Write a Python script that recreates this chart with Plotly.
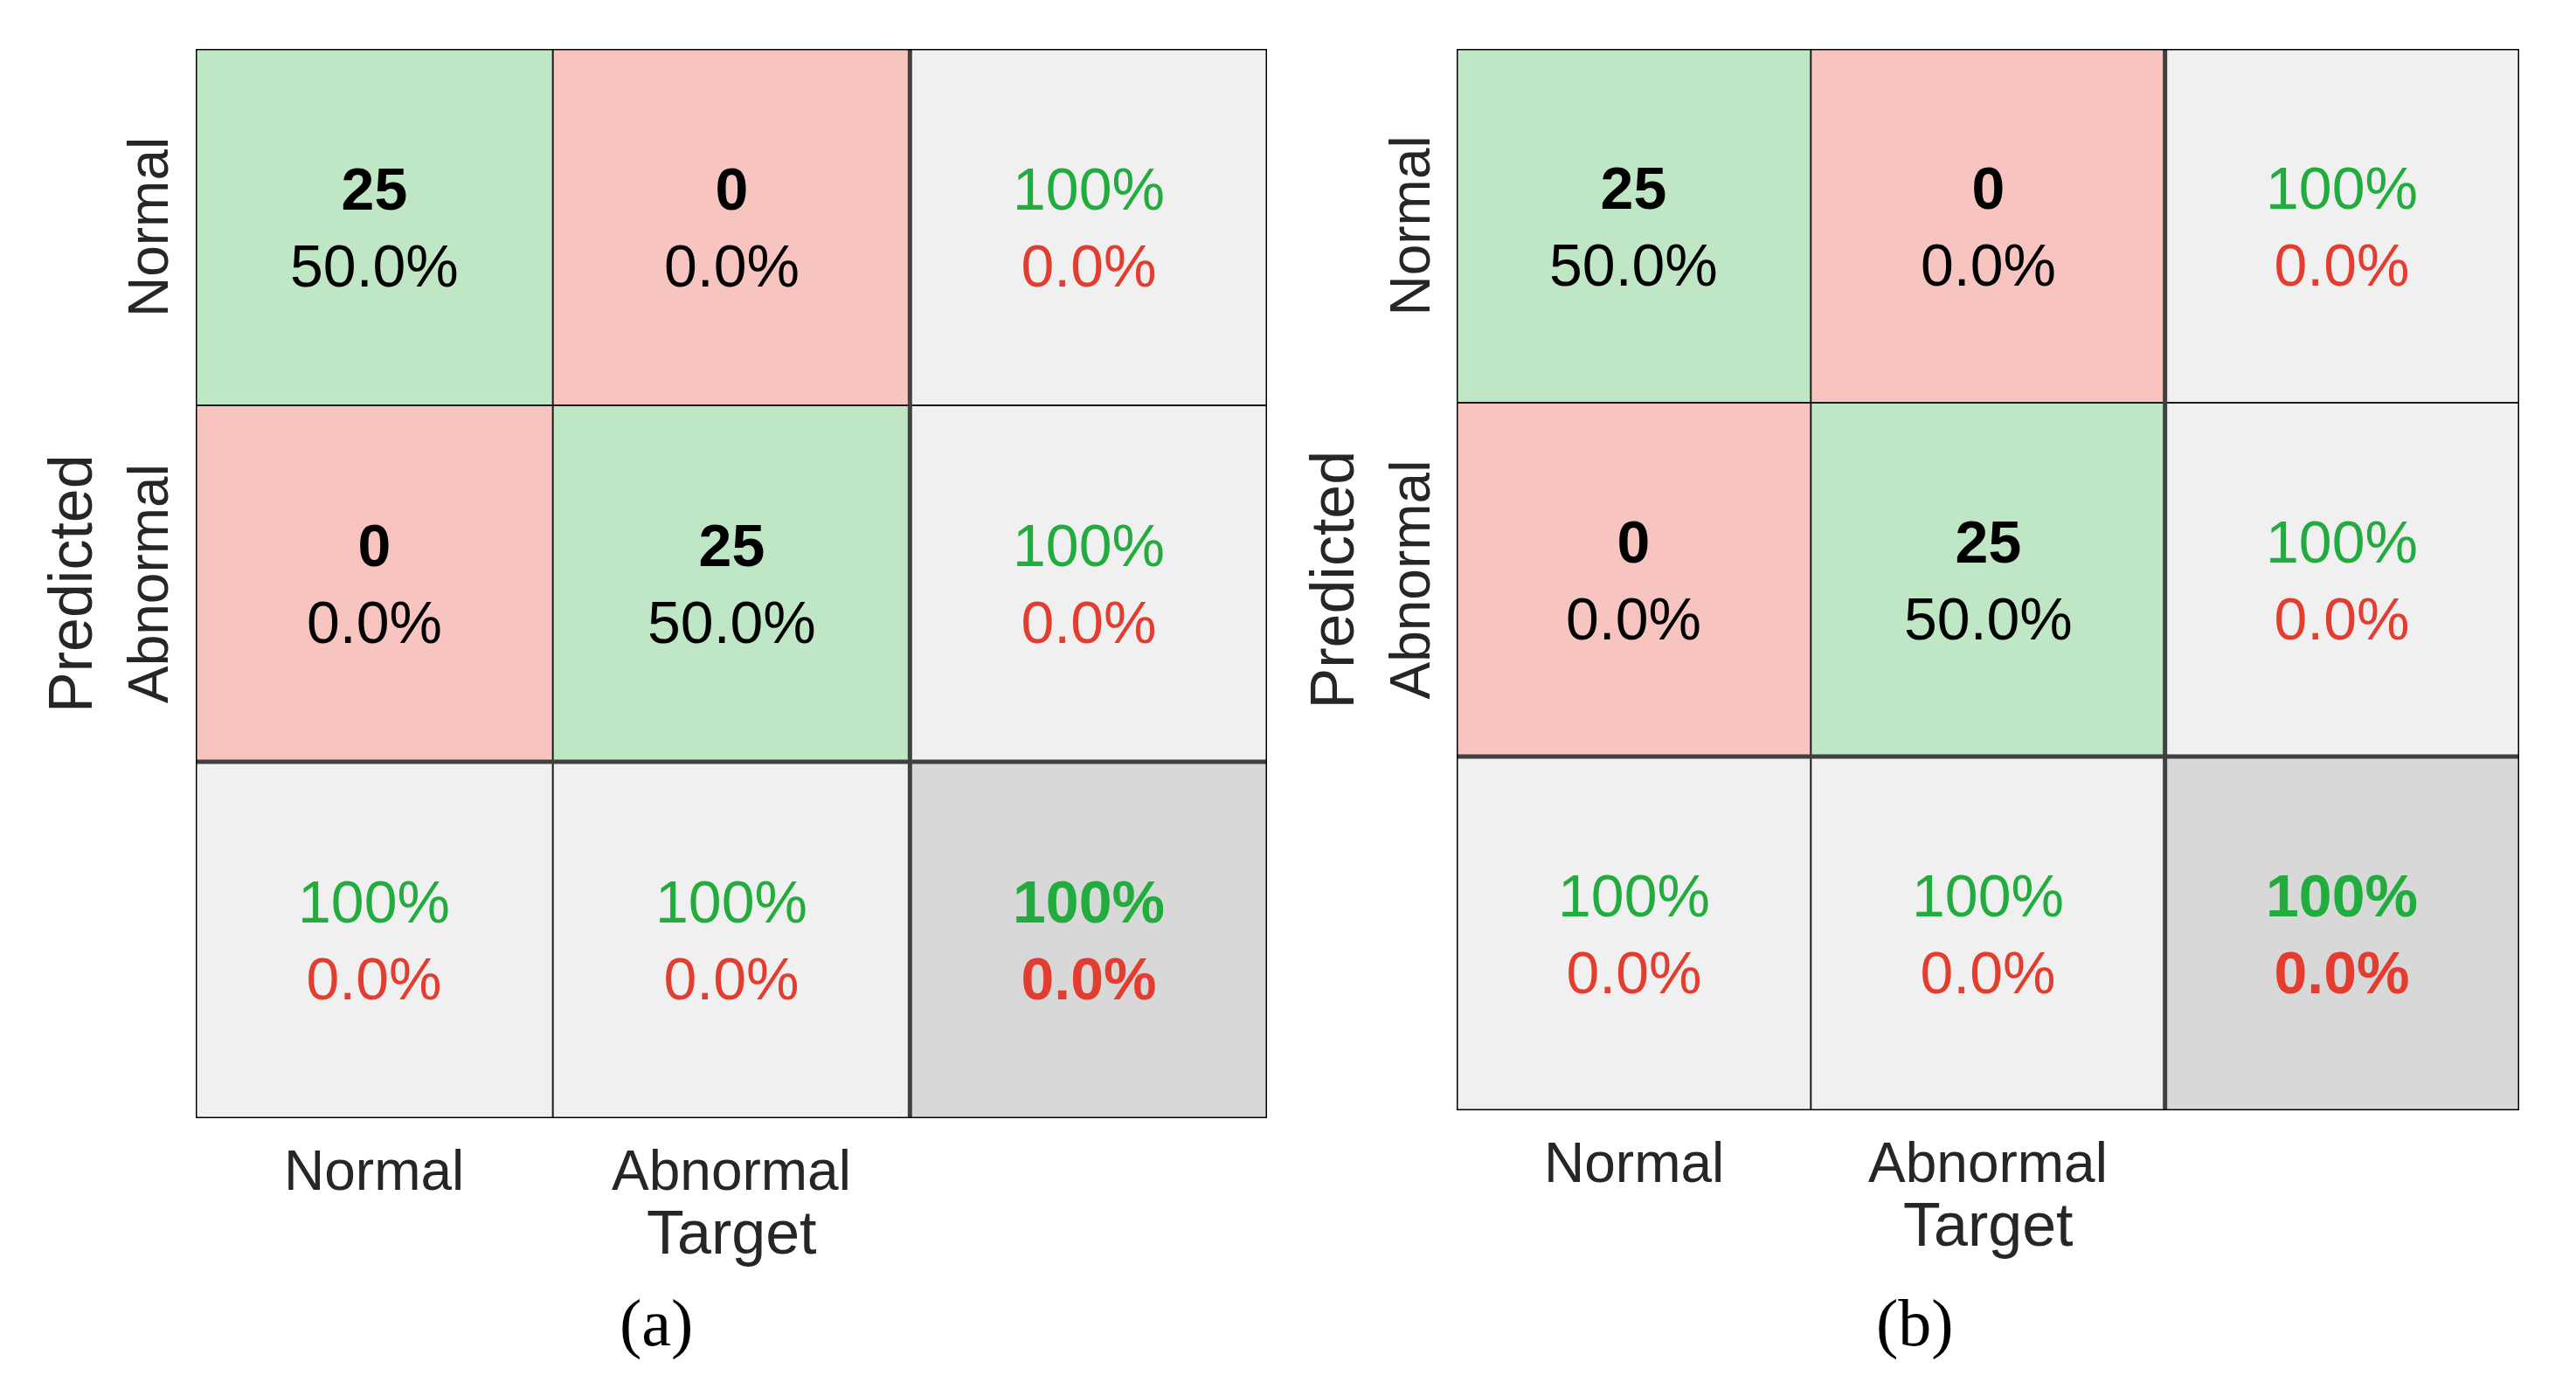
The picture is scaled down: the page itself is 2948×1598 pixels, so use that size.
import plotly.graph_objects as go

# ---------------- data ----------------
classes = ["Normal", "Abnormal"]
counts_a = [[25, 0], [0, 25]]   # rows = predicted, cols = target
counts_b = [[25, 0], [0, 25]]
panel_labels = ["(a)", "(b)"]
x_title = "Target"
y_title = "Predicted"

# ---------------- style ----------------
W, H = 2948, 1598
C_GOOD_FILL = "#BFE6C5"
C_BAD_FILL = "#F7C4C0"
C_SUM_FILL = "#F0F0F0"
C_TOT_FILL = "#D8D8D8"
C_GREEN = "#22AC3D"
C_RED = "#E33D2F"
C_TEXT = "#262626"
FONT = "Liberation Sans, Arial, Helvetica, sans-serif"
CELL_FS = 68
TICK_FS = 64
TITLE_FS = 70

# panel pixel boxes (left, right, top, bottom)
boxes = [(216, 1442, 48, 1272), (1659, 2875, 48, 1263)]
captions_x = [743, 2183]
caption_y = 1506


def fmt(v):
    return "100%" if abs(v - 100) < 1e-9 else f"{v:.1f}%"


fig = go.Figure()
annotations = []
shapes = []

for p, counts in enumerate([counts_a, counts_b]):
    n = len(classes)
    total = sum(sum(r) for r in counts)
    xa = "x" if p == 0 else "x2"
    ya = "y" if p == 0 else "y2"
    # fill codes: 0 good, 1 bad, 2 summary, 3 total
    z = []
    for i in range(n + 1):
        row = []
        for j in range(n + 1):
            if i == n and j == n:
                row.append(3)
            elif i == n or j == n:
                row.append(2)
            elif i == j:
                row.append(0)
            else:
                row.append(1)
        z.append(row)
    centers = [k + 0.5 for k in range(n + 1)]
    fig.add_trace(go.Heatmap(
        z=z, x=centers, y=centers, xaxis=xa, yaxis=ya,
        zmin=0, zmax=3, showscale=False, hoverinfo="skip",
        colorscale=[[0, C_GOOD_FILL], [0.25, C_GOOD_FILL],
                    [0.25, C_BAD_FILL], [0.5, C_BAD_FILL],
                    [0.5, C_SUM_FILL], [0.75, C_SUM_FILL],
                    [0.75, C_TOT_FILL], [1, C_TOT_FILL]],
    ))

    # cell texts
    for i in range(n):
        for j in range(n):
            c = counts[i][j]
            txt = f"<b>{c}</b><br>{100 * c / total:.1f}%"
            annotations.append(dict(x=j + 0.5, y=i + 0.5, xref=xa, yref=ya, text=txt,
                                    showarrow=False, font=dict(size=CELL_FS, color="black", family=FONT)))
        # row summary (precision)
        rs = sum(counts[i])
        acc = 100 * counts[i][i] / rs if rs else 0
        txt = f"<span style='color:{C_GREEN}'>{fmt(acc)}</span><br><span style='color:{C_RED}'>{fmt(100 - acc)}</span>"
        annotations.append(dict(x=n + 0.5, y=i + 0.5, xref=xa, yref=ya, text=txt,
                                showarrow=False, font=dict(size=CELL_FS, family=FONT)))
    for j in range(n):
        cs = sum(counts[i][j] for i in range(n))
        acc = 100 * counts[j][j] / cs if cs else 0
        txt = f"<span style='color:{C_GREEN}'>{fmt(acc)}</span><br><span style='color:{C_RED}'>{fmt(100 - acc)}</span>"
        annotations.append(dict(x=j + 0.5, y=n + 0.5, xref=xa, yref=ya, text=txt,
                                showarrow=False, font=dict(size=CELL_FS, family=FONT)))
    acc = 100 * sum(counts[k][k] for k in range(n)) / total
    txt = f"<span style='color:{C_GREEN}'><b>{fmt(acc)}</b></span><br><span style='color:{C_RED}'><b>{fmt(100 - acc)}</b></span>"
    annotations.append(dict(x=n + 0.5, y=n + 0.5, xref=xa, yref=ya, text=txt,
                            showarrow=False, font=dict(size=CELL_FS, family=FONT)))

    # tick labels
    for k, name in enumerate(classes):
        annotations.append(dict(x=k + 0.5, y=n + 1, xref=xa, yref=ya, text=name, showarrow=False,
                                xanchor="center", yanchor="middle", yshift=-60,
                                font=dict(size=TICK_FS, color=C_TEXT, family=FONT)))
        annotations.append(dict(x=0, y=k + 0.5, xref=xa, yref=ya, text=name, showarrow=False,
                                textangle=-90, xanchor="center", yanchor="middle", xshift=-54,
                                font=dict(size=TICK_FS, color=C_TEXT, family=FONT)))
    annotations.append(dict(x=(n + 1) / 2, y=n + 1, xref=xa, yref=ya, text=x_title, showarrow=False,
                            xanchor="center", yanchor="middle", yshift=-131,
                            font=dict(size=TITLE_FS, color=C_TEXT, family=FONT)))
    annotations.append(dict(x=0, y=(n + 1) / 2, xref=xa, yref=ya, text=y_title, showarrow=False,
                            textangle=-90, xanchor="center", yanchor="middle", xshift=-143,
                            font=dict(size=TITLE_FS, color=C_TEXT, family=FONT)))
    annotations.append(dict(x=captions_x[p] / W, y=1 - caption_y / H, xref="paper", yref="paper",
                            text=panel_labels[p], showarrow=False, xanchor="center", yanchor="middle",
                            font=dict(size=76, color="black", family="Liberation Serif, Times New Roman, serif")))

    # grid lines
    m = n + 1
    for k in range(1, n):
        shapes.append(dict(type="line", xref=xa, yref=ya, x0=k, x1=k, y0=0, y1=m,
                           line=dict(color="#1a1a1a", width=2)))
        shapes.append(dict(type="line", xref=xa, yref=ya, x0=0, x1=m, y0=k, y1=k,
                           line=dict(color="#1a1a1a", width=2)))
    shapes.append(dict(type="line", xref=xa, yref=ya, x0=n, x1=n, y0=0, y1=m,
                       line=dict(color="#404040", width=5)))
    shapes.append(dict(type="line", xref=xa, yref=ya, x0=0, x1=m, y0=n, y1=n,
                       line=dict(color="#404040", width=5)))
    shapes.append(dict(type="rect", xref=xa, yref=ya, x0=0, x1=m, y0=0, y1=m,
                       line=dict(color="black", width=3)))

l, r, t, b = boxes[0]
l2, r2, t2, b2 = boxes[1]
ax_common = dict(range=[0, 3], showgrid=False, zeroline=False, showticklabels=False, ticks="", fixedrange=True)
fig.update_layout(
    width=W, height=H, margin=dict(l=0, r=0, t=0, b=0),
    paper_bgcolor="white", plot_bgcolor="white", showlegend=False,
    xaxis=dict(domain=[l / W, r / W], anchor="y", **ax_common),
    yaxis=dict(domain=[1 - b / H, 1 - t / H], anchor="x", autorange=False, **{**ax_common, "range": [3, 0]}),
    xaxis2=dict(domain=[l2 / W, r2 / W], anchor="y2", **ax_common),
    yaxis2=dict(domain=[1 - b2 / H, 1 - t2 / H], anchor="x2", autorange=False, **{**ax_common, "range": [3, 0]}),
    annotations=annotations, shapes=shapes,
)

fig.write_html("out.html")
